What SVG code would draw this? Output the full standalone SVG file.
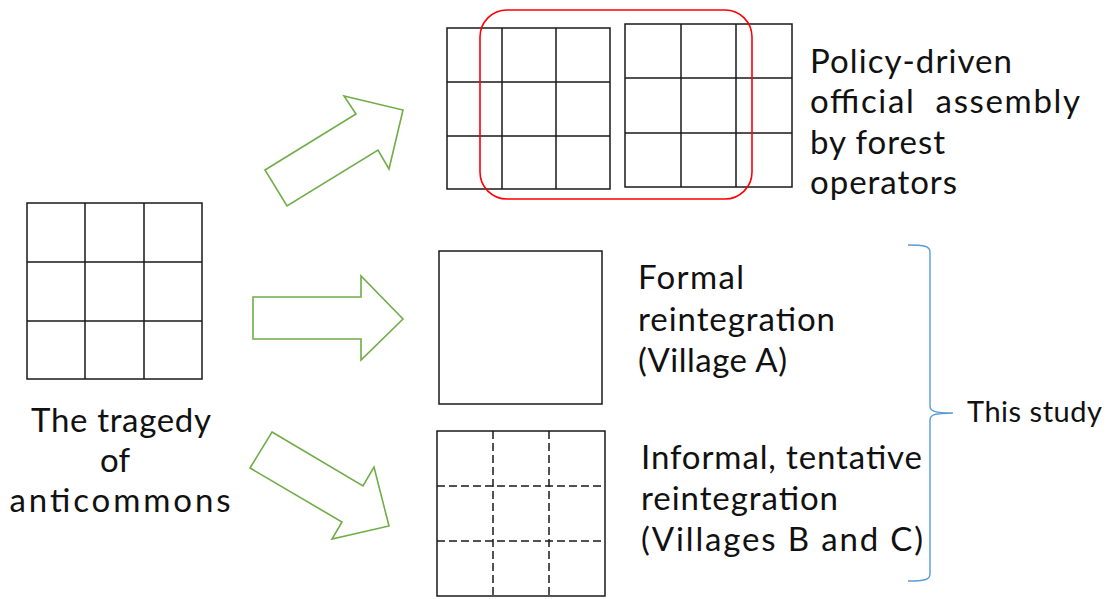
<svg xmlns="http://www.w3.org/2000/svg" width="1112" height="599" viewBox="0 0 1112 599">
<style>
.g{fill:none;stroke:#1a1a1a;stroke-width:1.5}
.d{fill:none;stroke:#1a1a1a;stroke-width:1.5;stroke-dasharray:8 4}
.arr{fill:#fff;stroke:#70AD47;stroke-width:1.6;stroke-linejoin:miter}
.t{font-family:Lato,"Noto Sans","Liberation Sans",sans-serif;font-size:33px;fill:#111;white-space:pre}
.s{font-family:Lato,"Noto Sans","Liberation Sans",sans-serif;font-size:29px;fill:#111}
</style>
<rect width="1112" height="599" fill="#fff"/>
<g id="anticommons">
<rect class="g" x="27" y="203" width="175" height="176"/>
<path class="g" d="M85,203V379M144,203V379M27,262H202M27,321H202"/>
<text class="t" text-anchor="middle" x="121" y="432" textLength="180" lengthAdjust="spacing">The tragedy</text>
<text class="t" text-anchor="middle" x="115" y="472">of</text>
<text class="t" text-anchor="middle" x="120" y="512" textLength="221" lengthAdjust="spacing">anticommons</text>
</g>
<g id="policy">
<rect class="g" x="447" y="28" width="163" height="161"/>
<path class="g" d="M502,28V189M556,28V189M447,82H610M447,136H610"/>
<rect class="g" x="625" y="24" width="167" height="163"/>
<path class="g" d="M681,24V187M736,24V187M625,78H792M625,133H792"/>
<rect x="480" y="10" width="272" height="189" rx="27" ry="27" fill="none" stroke="#FF0000" stroke-width="1.6"/>
<text class="t" x="810" y="73" textLength="202" lengthAdjust="spacing">Policy-driven</text>
<text class="t" x="810" y="113" textLength="270" lengthAdjust="spacing">official  assembly</text>
<text class="t" x="810" y="154" textLength="135" lengthAdjust="spacing">by forest</text>
<text class="t" x="810" y="194" textLength="147" lengthAdjust="spacing">operators</text>
</g>
<g id="formal">
<rect class="g" x="439" y="251" width="163" height="153"/>
<text class="t" x="638" y="289" textLength="106" lengthAdjust="spacing">Formal</text>
<text class="t" x="638" y="331" textLength="197" lengthAdjust="spacing">reintegration</text>
<text class="t" x="638" y="372" textLength="149" lengthAdjust="spacing">(Village A)</text>
</g>
<g id="informal">
<rect class="g" x="437" y="431" width="168" height="165"/>
<path class="d" d="M493,431V596M549,431V596M437,486H605M437,541H605"/>
<text class="t" x="641" y="469" textLength="281" lengthAdjust="spacing">Informal, tentative</text>
<text class="t" x="641" y="510" textLength="197" lengthAdjust="spacing">reintegration</text>
<text class="t" x="641" y="551" textLength="282" lengthAdjust="spacing">(Villages B and C)</text>
</g>
<g id="this-study">
<text class="s" x="967" y="422" textLength="135" lengthAdjust="spacing">This study</text>
</g>
<g id="connectors">
<polygon class="arr" points="265,170 356,114 344,96 403,110 389,169 378,150 287,206"/>
<polygon class="arr" points="253,297 361,297 361,276 403,319 361,360 361,339 253,339"/>
<polygon class="arr" points="272,432 363,486 374,467 389,526 332,539 342,522 250,468"/>
<path d="M908,245C924,245 930,246 930,252L930,406C930,411 934,413 953,413C934,413 930,415 930,420L930,574C930,580 924,581 908,581" fill="none" stroke="#5B9BD5" stroke-width="1.4"/>
</g>
</svg>
